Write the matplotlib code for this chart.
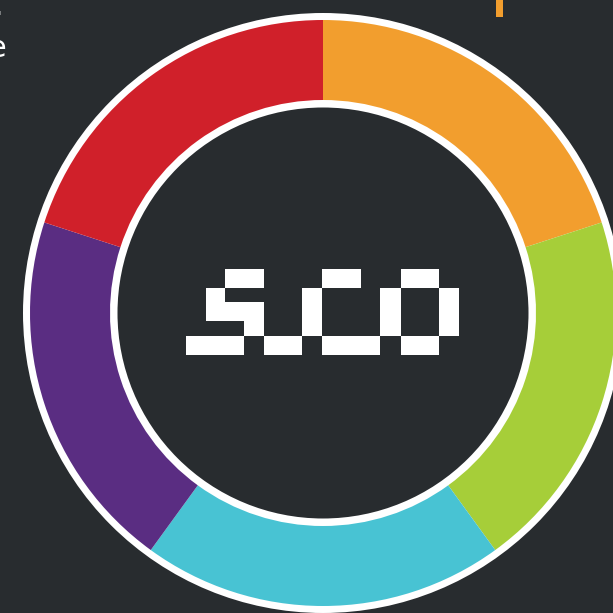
import matplotlib.pyplot as plt
from matplotlib.patches import Circle, Rectangle

# five equal segments, clockwise from the top
segments = ["orange", "green", "cyan", "purple", "red"]
shares = [1, 1, 1, 1, 1]
colors = ["#F29E2E", "#A6CE39", "#48C3D3", "#5A2D82", "#D0202A"]

# pixel-art logo blocks (x0, x1, y0, y1) in image pixels
logo_blocks = [
    (225, 264, 269, 288), (206, 225, 288, 321), (206, 264, 302, 321),
    (244, 264, 321, 336), (186, 244, 336, 355),
    (264, 302, 336, 355), (302, 322, 288, 336),
    (322, 361, 269, 288), (322, 380, 336, 355),
    (380, 401, 288, 336), (401, 439, 269, 288),
    (439, 459, 288, 336), (401, 439, 336, 355),
]

bg = "#282c2f"
W = H = 613
cx, cy = 323, H - 313

fig = plt.figure(figsize=(6.13, 6.13), dpi=100, facecolor=bg)
ax = fig.add_axes([0, 0, 1, 1])
ax.set_facecolor(bg)

ax.add_patch(Circle((cx, cy), 300, facecolor="white", edgecolor="none", zorder=1))
wedges, _ = ax.pie(shares, colors=colors, startangle=90, counterclock=False,
                   center=(cx, cy), radius=293,
                   wedgeprops=dict(width=80, linewidth=0, edgecolor="none"))
for w in wedges:
    w.set_zorder(2)
ax.add_patch(Circle((cx, cy), 205.5, facecolor=bg, edgecolor="none", zorder=3))

for x0, x1, y0, y1 in logo_blocks:
    ax.add_patch(Rectangle((x0, H - y1), x1 - x0, y1 - y0, facecolor="white",
                           edgecolor="none", zorder=4))

# cropped bits at the edges
ax.text(3, H - 15, ".", color="white", fontsize=22, ha="right", va="baseline", zorder=5)
ax.text(6, H - 57, "e", color="white", fontsize=22, ha="right", va="baseline", zorder=5)
ax.add_patch(Rectangle((496, H - 17), 7, 17, facecolor="#F29E2E", edgecolor="none", zorder=5))

ax.set_xlim(0, W)
ax.set_ylim(0, H)
ax.set_aspect("equal")
ax.axis("off")

fig.savefig("out.png", dpi=100, facecolor=bg)
